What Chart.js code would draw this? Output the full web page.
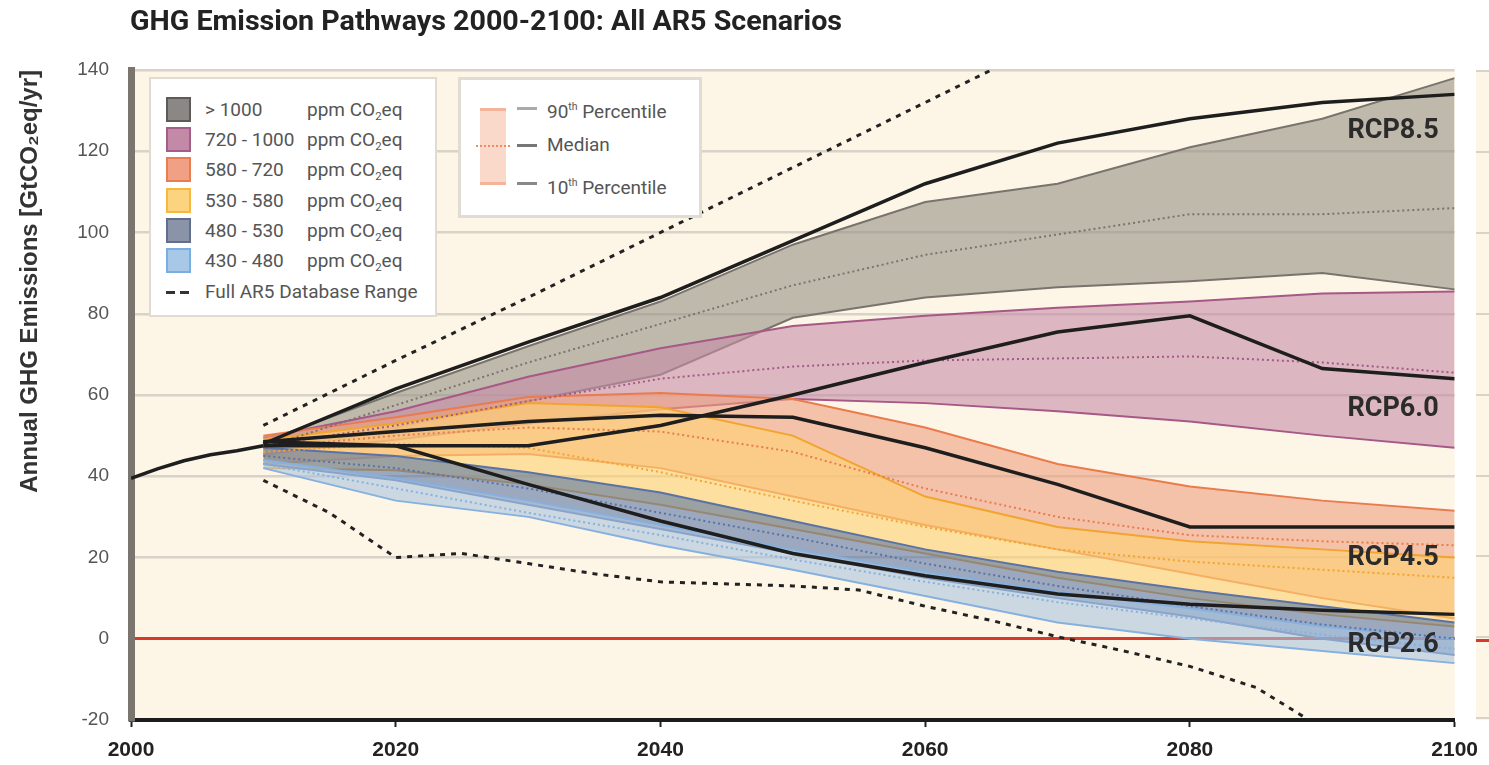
<!DOCTYPE html>
<html>
<head>
<meta charset="utf-8">
<script src="https://cdn.jsdelivr.net/npm/chart.js@4.4.1/dist/chart.umd.min.js"></script>
<style>
body { margin: 0; background: #fff; font-family: Roboto, 'Noto Sans', sans-serif; }
#wrap { position: relative; width: 1489px; height: 765px; overflow: hidden; }
#chart { position: absolute; left: 0; top: 0; }
#title { position: absolute; left: 130px; top: 4px; font-size: 28px; font-weight: bold; color: #222; white-space: nowrap; transform-origin: 0 0; }
.legend { position: absolute; background: #fff; border: 2px solid #e0dbd3; box-sizing: border-box; color: #555; font-size: 19px; }
#legendA { left: 149px; top: 77px; width: 288px; height: 240px; }
#legendB { left: 458px; top: 77px; width: 244px; height: 141px; border-width: 3px; }
.row { position: absolute; left: 0; height: 26px; width: 100%; }
.row span { position: absolute; top: 0; line-height: 26px; white-space: nowrap; }
.sw { left: 15px; width: 21px; height: 21px; border: 2px solid; }
.rng { left: 54px; }
.ppm { left: 156px; }
sub { font-size: 60%; vertical-align: -4px; }
sup { font-size: 55%; vertical-align: 8px; }
.dash { position: absolute; height: 3px; background: #333; }
#sidePanel { position: absolute; left: 1476px; top: 70px; width: 13px; height: 650px; background: repeating-linear-gradient(to bottom, #d8d2c8 0 2px, #fdf5e6 2px 80.9px); }
#sideZero { position: absolute; left: 1476px; top: 639px; width: 13px; height: 3px; background: #d63a2c; }
</style>
</head>
<body>
<div id="wrap">
  <canvas id="chart" width="1489" height="765"></canvas>
  <div id="title">GHG Emission Pathways 2000-2100: All AR5 Scenarios</div>
  <div id="legendA" class="legend"></div>
  <div id="legendB" class="legend">
    <div style="position:absolute;left:19px;top:28px;width:26px;height:77px;background:rgba(244,170,140,0.45);border-top:3px solid #f4b49a;border-bottom:3px solid #f4b49a;box-sizing:border-box;"></div>
    <div style="position:absolute;left:15px;top:65px;width:34px;border-top:2px dotted #ee8a60;"></div>
    <div class="dash" style="left:56px;top:27px;width:20px;background:#aaa;"></div>
    <div class="dash" style="left:56px;top:64px;width:20px;background:#777;"></div>
    <div class="dash" style="left:56px;top:102px;width:20px;background:#888;"></div>
    <div style="position:absolute;left:86px;top:13px;line-height:28px;white-space:nowrap;">90<sup>th</sup> Percentile</div>
    <div style="position:absolute;left:86px;top:51px;line-height:28px;white-space:nowrap;">Median</div>
    <div style="position:absolute;left:86px;top:89px;line-height:28px;white-space:nowrap;">10<sup>th</sup> Percentile</div>
  </div>
  <div id="sidePanel"></div>
  <div id="sideZero"></div>
</div>
<script>
// years
const decades = [2010, 2020, 2030, 2040, 2050, 2060, 2070, 2080, 2090, 2100];
const histYears = [2000, 2002, 2004, 2006, 2008, 2010];
const histValues = [39.5, 41.8, 43.8, 45.3, 46.3, 47.5];

// full AR5 database range (dashed)
const rangeUpYears = [2010, 2020, 2030, 2040, 2050, 2060, 2070];
const rangeUpValues = [52.5, 68.5, 84, 100, 116, 132, 148];
const rangeLowYears = [2010, 2015, 2020, 2025, 2030, 2035, 2040, 2050, 2055, 2060, 2065, 2070, 2075, 2080, 2085, 2090];
const rangeLowValues = [39, 31, 20, 21, 18.5, 16, 14, 13, 12, 8, 4.5, 0.5, -3, -6.8, -12, -22];

// concentration categories, 90th / median / 10th percentile per decade
const categories = ['> 1000', '720 - 1000', '580 - 720', '530 - 580', '480 - 530', '430 - 480'];
const over1000Hi  = [48.5, 60.5, 72, 83, 97, 107.5, 112, 121, 128, 138];
const over1000Med = [47, 57.5, 68, 77.5, 87, 94.5, 99.5, 104.5, 104.5, 106];
const over1000Lo  = [45, 52, 58.5, 65, 79, 84, 86.5, 88, 90, 86];
const c720Hi  = [49.5, 56, 64.5, 71.5, 77, 79.5, 81.5, 83, 85, 85.5];
const c720Med = [47.5, 52.5, 58.5, 64, 67, 68.5, 69, 69.5, 68, 65.5];
const c720Lo  = [45.5, 49, 53, 56.5, 59, 58, 56, 53.5, 50, 47];
const c580Hi  = [50, 54.5, 59.5, 60.5, 59, 52, 43, 37.5, 34, 31.5];
const c580Med = [47, 50, 52, 51, 46, 37, 30, 25.5, 24, 23];
const c580Lo  = [43, 45, 45.5, 42, 35, 28, 22, 16, 10, 5];
const c530Hi  = [49, 53, 58, 57, 50, 35, 27.5, 24, 22, 20];
const c530Med = [46, 48, 47, 41, 34, 27.5, 22, 19, 17, 15];
const c530Lo  = [42, 41.5, 38, 33, 27, 21, 15, 10, 6, 3];
const c480Hi  = [47, 45, 41, 36, 29, 22, 16.5, 12, 8, 4];
const c480Med = [45, 42, 37, 31, 25, 18.5, 13, 8, 3.5, 0];
const c480Lo  = [43, 39, 33, 27, 21, 15, 10, 5.5, 0, -4];
const c430Hi  = [44, 39.5, 34, 28, 22, 16.5, 11.5, 7.5, 3, 0];
const c430Med = [43, 37, 31, 25.5, 19.5, 14, 9, 5, 1, -2.5];
const c430Lo  = [42, 34, 30, 23, 17, 10.5, 4, 0, -3, -6];

// RCP pathways
const rcp85 = [48, 61.5, 73, 84, 98, 112, 122, 128, 132, 134];
const rcp60 = [47.5, 47.5, 47.5, 52.5, 60, 68, 75.5, 79.5, 66.5, 64];
const rcp45 = [48.5, 51, 53.5, 55, 54.5, 47, 38, 27.5, 27.5, 27.5];
const rcp26 = [48.5, 47.5, 38, 29, 21, 15.5, 11, 8.5, 7, 6];
const rcpLabels = ['RCP8.5', 'RCP6.0', 'RCP4.5', 'RCP2.6'];
const rcpLabelValues = [125, 56.5, 19.8, -1.5];

const bandFill = ['rgba(150,145,133,0.6)', 'rgba(198,140,167,0.6)', 'rgba(238,160,126,0.6)', 'rgba(253,210,113,0.6)', 'rgba(90,117,161,0.6)', 'rgba(170,197,223,0.6)'];
const bandEdge = ['#78746d', '#a65886', '#ea7b4c', '#f2a42c', '#5a72a6', '#86b0de'];
const swatchFill = ['#8a8784', '#c38aa8', '#f0a184', '#fcd37e', '#8a93a8', '#a8c8e8'];
const swatchEdge = ['#5d5a57', '#a45d88', '#e87d52', '#f6b83e', '#616e8e', '#7aaee0'];

function pts(xs, ys) {
    return xs.map((x, i) => ({x: x, y: ys[i]}));
}

const bandData = [
    [over1000Lo, over1000Med, over1000Hi],
    [c720Lo, c720Med, c720Hi],
    [c580Lo, c580Med, c580Hi],
    [c530Lo, c530Med, c530Hi],
    [c480Lo, c480Med, c480Hi],
    [c430Lo, c430Med, c430Hi]
];

const datasets = [];
bandData.forEach((b, k) => {
    const ord = 60 - k * 10;
    datasets.push({data: pts(decades, b[0]), borderColor: bandEdge[k], borderWidth: 2, fill: false, order: ord});
    datasets.push({data: pts(decades, b[2]), borderColor: bandEdge[k], borderWidth: 2, fill: '-1', backgroundColor: bandFill[k], order: ord});
    datasets.push({data: pts(decades, b[1]), borderColor: bandEdge[k], borderWidth: 2, borderDash: [2, 3], fill: false, order: 5});
});
[rcp85, rcp60, rcp45, rcp26].forEach(r => {
    datasets.push({data: pts(decades, r), borderColor: '#1e1e1e', borderWidth: 3.5, fill: false, order: 2});
});
datasets.push({data: pts(rangeUpYears, rangeUpValues), borderColor: '#222', borderWidth: 3, borderDash: [5, 6], fill: false, order: 3});
datasets.push({data: pts(rangeLowYears, rangeLowValues), borderColor: '#222', borderWidth: 3, borderDash: [5, 6], fill: false, order: 3});
datasets.push({data: pts(histYears, histValues), borderColor: '#1e1e1e', borderWidth: 3.5, fill: false, order: 1});

// beige plot area
const plotBackground = {
    id: 'plotBackground',
    beforeDraw(chart) {
        const {ctx, chartArea: {left, top, width, height}} = chart;
        ctx.save();
        ctx.fillStyle = '#fdf5e6';
        ctx.fillRect(left, top, width, height);
        ctx.restore();
    }
};

// RCP labels at the right edge
const rcpLabelPlugin = {
    id: 'rcpLabelPlugin',
    afterDatasetsDraw(chart) {
        const {ctx, scales: {x, y}} = chart;
        ctx.save();
        ctx.font = 'bold 27px Roboto, sans-serif';
        ctx.fillStyle = '#2b2b2b';
        ctx.textAlign = 'right';
        ctx.textBaseline = 'middle';
        rcpLabels.forEach((t, i) => {
            ctx.fillText(t, x.getPixelForValue(2100) - 16, y.getPixelForValue(rcpLabelValues[i]));
        });
        ctx.restore();
    }
};

const config = {
    type: 'line',
    data: {datasets},
    options: {
        responsive: false,
        animation: false,
        devicePixelRatio: 1,
        layout: {padding: {top: 70, right: 32, bottom: 0, left: 0}},
        elements: {point: {radius: 0}, line: {tension: 0}},
        plugins: {legend: {display: false}, tooltip: {enabled: false}},
        scales: {
            x: {
                type: 'linear', min: 2000, max: 2100,
                ticks: {stepSize: 20, color: '#222', font: {size: 21, weight: 'bold'}, padding: 11, callback: v => String(v)},
                grid: {drawOnChartArea: false, tickLength: 7, tickColor: '#222', tickWidth: 2},
                border: {color: '#1c1c1c', width: 4},
                afterFit(scale) { scale.height = 45; }
            },
            y: {
                min: -20, max: 140,
                ticks: {stepSize: 20, color: '#555', font: {size: 19}, padding: 22},
                grid: {
                    drawTicks: false,
                    color: c => c.tick && c.tick.value === 0 ? '#d63a2c' : '#d8d2c8',
                    lineWidth: c => c.tick && c.tick.value === 0 ? 3 : 2.5
                },
                border: {color: '#7a756f', width: 7},
                title: {display: true, text: 'Annual GHG Emissions [GtCO₂eq/yr]', align: 'end', color: '#333', font: {size: 24, weight: '600'}, padding: {top: 16, bottom: 0}},
                afterFit(scale) { scale.width = 131; }
            }
        }
    },
    plugins: [plotBackground, rcpLabelPlugin]
};

new Chart(document.getElementById('chart'), config);

// legend with category swatches
const legendA = document.getElementById('legendA');
categories.forEach((c, i) => {
    const row = document.createElement('div');
    row.className = 'row';
    row.style.top = (18 + i * 30.2) + 'px';
    row.innerHTML = '<span class="sw" style="background:' + swatchFill[i] + ';border-color:' + swatchEdge[i] + '"></span>' +
        '<span class="rng">' + c + '</span><span class="ppm">ppm CO<sub>2</sub>eq</span>';
    legendA.appendChild(row);
});
const rangeRow = document.createElement('div');
rangeRow.className = 'row';
rangeRow.style.top = '200px';
rangeRow.innerHTML = '<span class="dash" style="left:15px;top:12px;width:9px"></span><span class="dash" style="left:29px;top:12px;width:9px"></span>' +
    '<span class="rng">Full AR5 Database Range</span>';
legendA.appendChild(rangeRow);

// squeeze title to the reference width
const title = document.getElementById('title');
title.style.transform = 'scaleX(' + (712 / title.offsetWidth) + ')';
</script>
</body>
</html>
